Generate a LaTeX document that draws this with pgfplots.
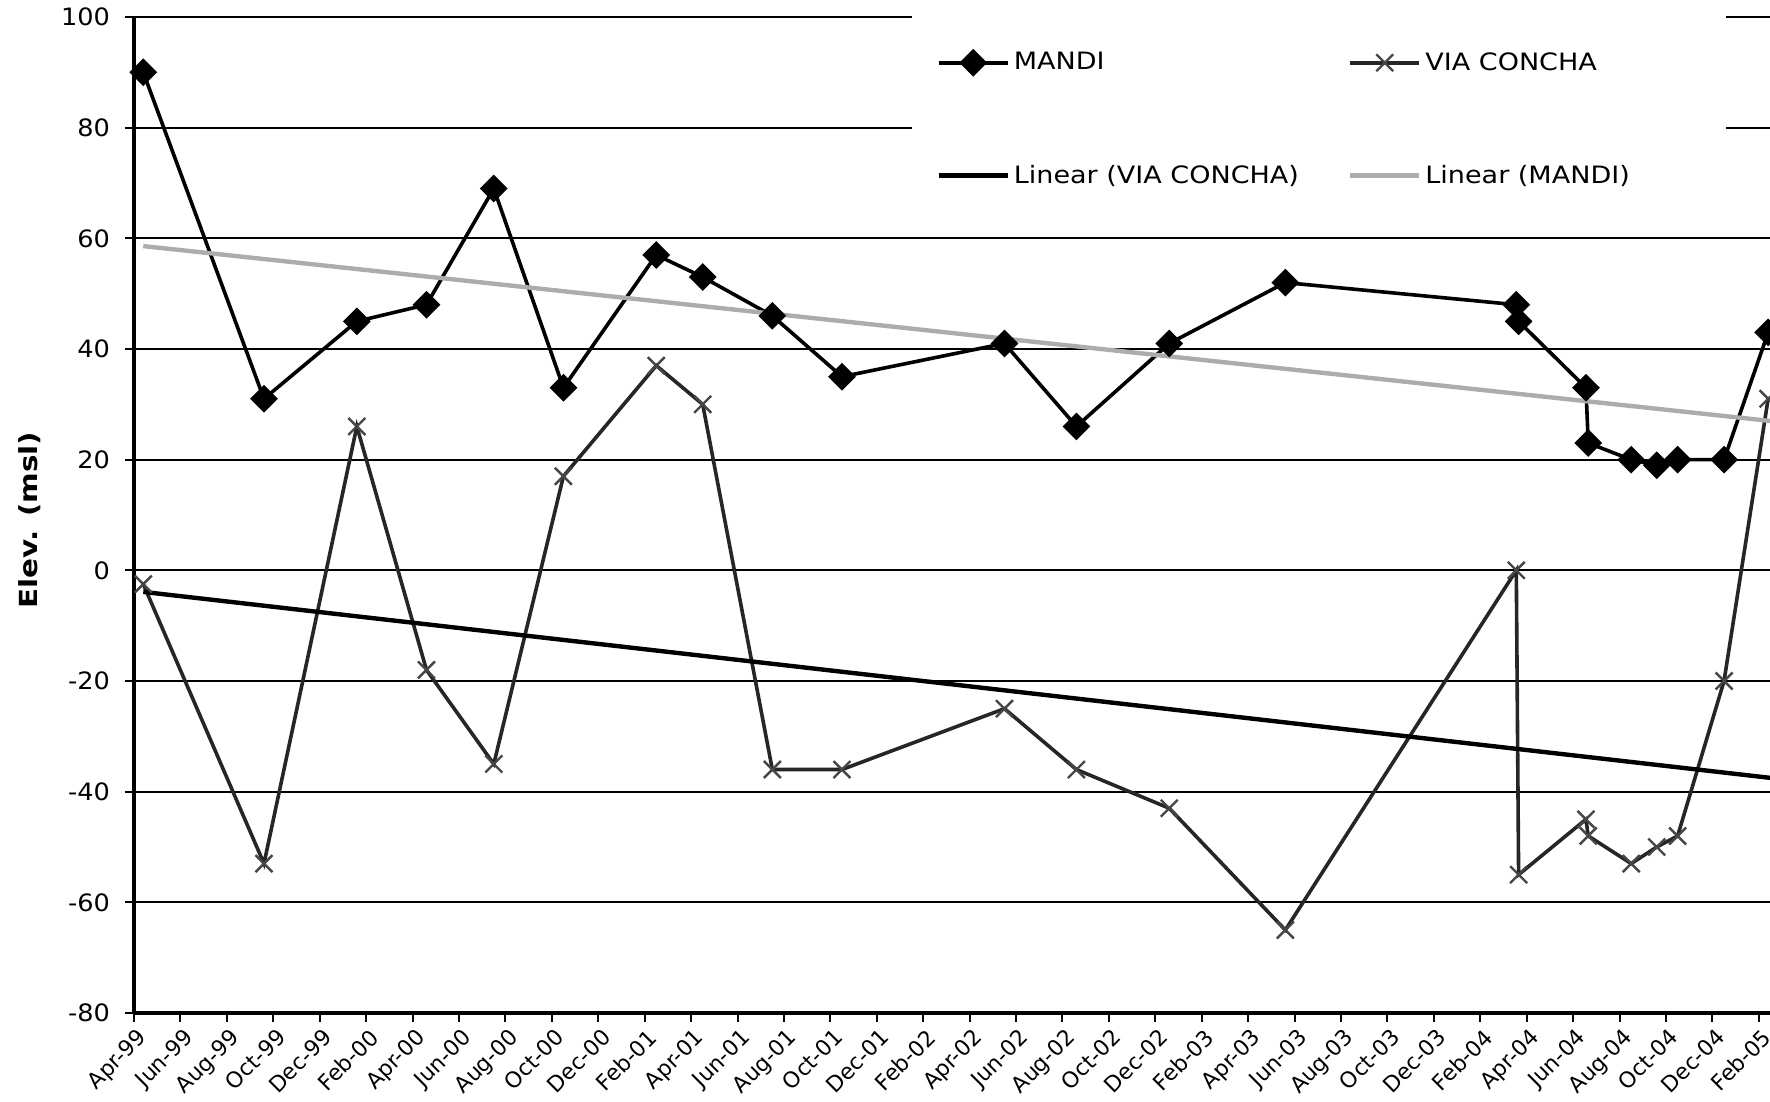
\documentclass[border=0pt]{standalone}
\usepackage{fontspec}
\setmainfont{DejaVu Sans}
\newfontfamily\legfont[FakeStretch=1.13]{DejaVu Sans}
\newfontfamily\yfont[FakeStretch=1.07]{DejaVu Sans}
\newfontfamily\labfont[FakeStretch=1.18]{DejaVu Sans}
\usepackage{pgfplots}
\pgfplotsset{compat=1.18}

% months counted from Apr-99 (=0)
\pgfplotstableread{
m     mandi  via
0.4   90     -2.5
5.6   31     -53
9.6   45     26
12.6  48     -18
15.5  69     -35
18.5  33     17
22.5  57     37
24.5  53     30
27.5  46     -36
30.5  35     -36
37.5  41     -25
40.6  26     -36
44.6  41     -43
49.6  52     -65
59.55 48     0
59.65 45     -55
62.55 33     -45
62.65 23     -48
64.5  20     -53
65.6  19     -50
66.5  20     -48
68.5  20     -20
70.4  43     31
}\wells

\begin{document}
\begin{tikzpicture}
\begin{axis}[
  scale only axis, width=818bp, height=498bp,
  xmin=0, xmax=70.48, ymin=-80, ymax=100,
  axis x line*=bottom, axis y line*=left,
  axis line style={line width=1.8bp},
  xtick={0,2,...,70},
  xticklabels={Apr-99,Jun-99,Aug-99,Oct-99,Dec-99,Feb-00,Apr-00,Jun-00,Aug-00,Oct-00,Dec-00,Feb-01,Apr-01,Jun-01,Aug-01,Oct-01,Dec-01,Feb-02,Apr-02,Jun-02,Aug-02,Oct-02,Dec-02,Feb-03,Apr-03,Jun-03,Aug-03,Oct-03,Dec-03,Feb-04,Apr-04,Jun-04,Aug-04,Oct-04,Dec-04,Feb-05},
  x tick label style={rotate=45, anchor=north east, inner sep=1bp, yshift=-1.5bp,
    font=\fontsize{11}{13}\selectfont},
  ytick={-80,-60,...,100},
  /pgf/number format/assume math mode=true,
  y tick label style={xshift=-4bp, font=\yfont\fontsize{12}{14}\selectfont},
  ymajorgrids, grid style={black, line width=0.9bp},
  tick style={black, line width=1bp},
  tick align=outside, major tick length=4.5bp,
  ylabel={Elev. (msl)},
  every axis y label/.style={at={([xshift=-52bp]rel axis cs:0,0.495)}, rotate=90, anchor=center,
    font=\labfont\bfseries\fontsize{12.5}{14}\selectfont},
  legend columns=2,
  legend cell align=left,
  legend style={at={(0.4756,1.005)}, anchor=north west, draw=none, fill=white,
    inner xsep=12bp, inner ysep=18bp, row sep=42bp,
    font=\legfont\fontsize{12}{14}\selectfont},
  /tikz/every even column/.append style={column sep=22.5bp},
  legend image code/.code={\draw[mark repeat=2,mark phase=2,#1] plot coordinates {(0bp,0bp) (17.25bp,0bp) (34.5bp,0bp)};},
]
\coordinate (bl) at (rel axis cs:0,0);
\coordinate (tr) at (rel axis cs:1,1);

\addplot[black, line width=1.8bp, mark=square*, mark size=4bp, mark options={solid, rotate=45, fill=black}]
  table[x=m, y=mandi] {\wells};
\addlegendentry{MANDI}

\addplot[black!85, line width=1.8bp, mark=x, mark size=6bp, mark options={solid, gray!55!black, line width=1.2bp}]
  table[x=m, y=via] {\wells};
\addlegendentry{VIA CONCHA}

\addplot[black, line width=2.2bp] coordinates {(0.4,-3.9) (70.48,-37.5)};
\addlegendentry{Linear (VIA CONCHA)}

\addplot[gray!65, line width=2.2bp] coordinates {(0.4,58.6) (70.48,27.0)};
\addlegendentry{Linear (MANDI)\hspace*{34bp}}
\end{axis}
\pgfresetboundingbox
\path ([xshift=-67bp,yshift=-44.5bp]bl) rectangle ([yshift=8.5bp]tr);
\end{tikzpicture}
\end{document}
